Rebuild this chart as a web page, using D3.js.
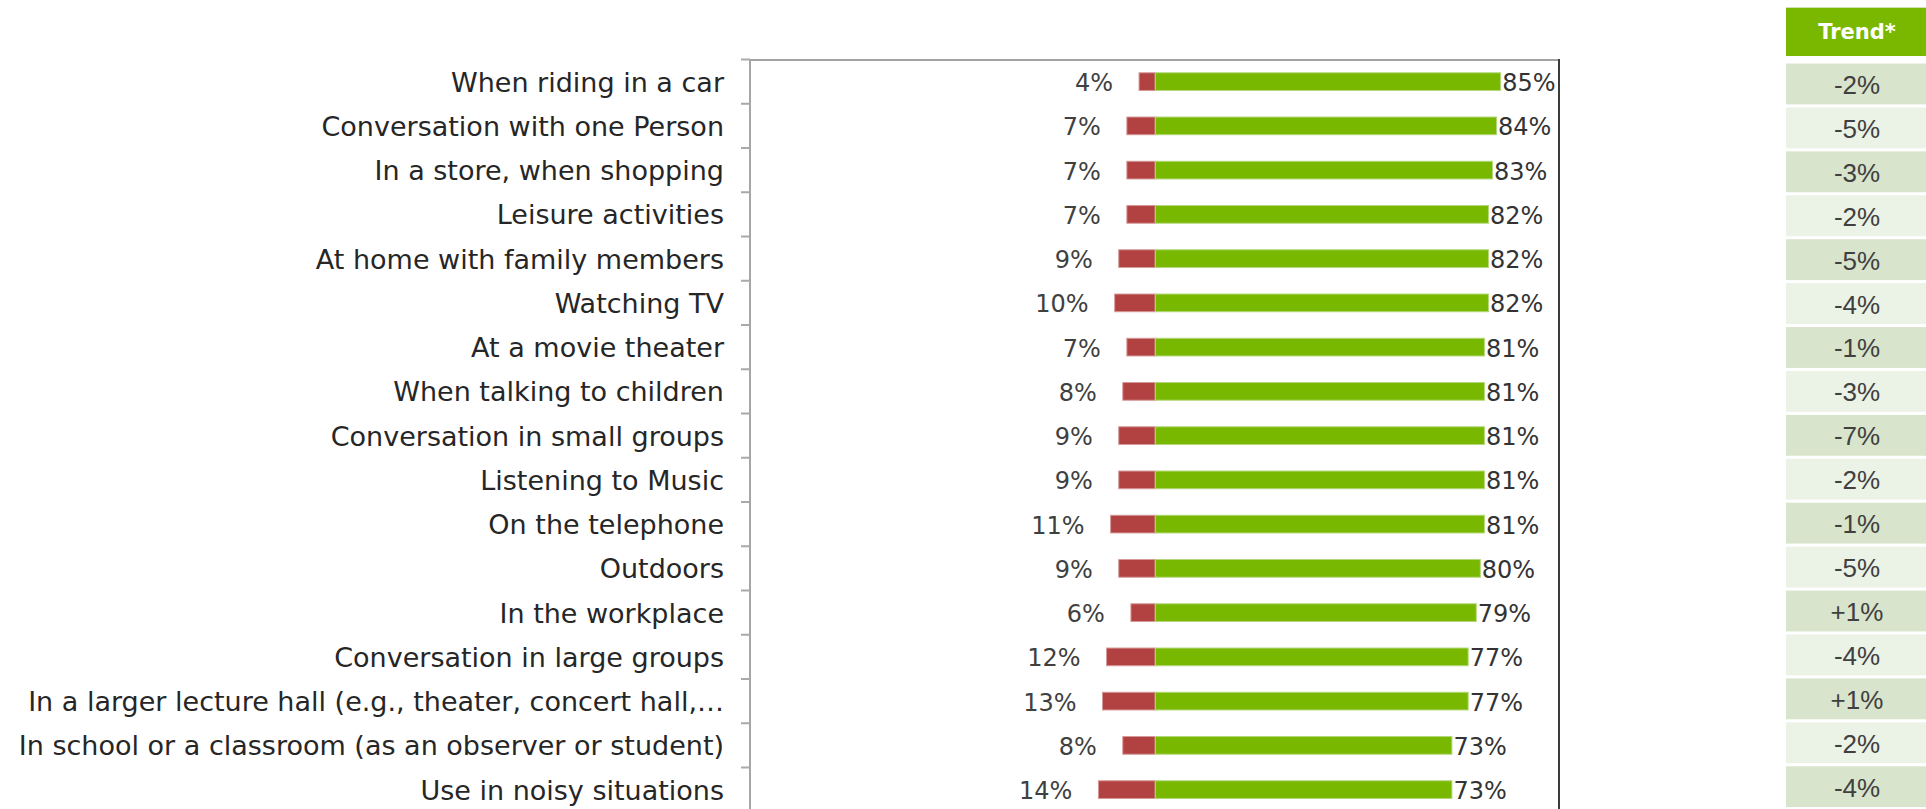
<!DOCTYPE html>
<html>
<head>
<meta charset="utf-8">
<script src="https://cdn.jsdelivr.net/npm/d3@7"></script>
<style>
  html, body { margin: 0; padding: 0; background: #ffffff; }
  svg { display: block; }
</style>
</head>
<body>
<svg id="chart" width="1926" height="809"></svg>
<script>
// Situations, ordered from highest to lowest satisfaction
const categories = [
  "When riding in a car",
  "Conversation with one Person",
  "In a store, when shopping",
  "Leisure activities",
  "At home with family members",
  "Watching TV",
  "At a movie theater",
  "When talking to children",
  "Conversation in small groups",
  "Listening to Music",
  "On the telephone",
  "Outdoors",
  "In the workplace",
  "Conversation in large groups",
  "In a larger lecture hall (e.g., theater, concert hall,\u2026",
  "In school or a classroom (as an observer or student)",
  "Use in noisy situations"
];

// Share satisfied (green, right) and dissatisfied (red, left), in percent
const satisfied    = [85, 84, 83, 82, 82, 82, 81, 81, 81, 81, 81, 80, 79, 77, 77, 73, 73];
const dissatisfied = [4, 7, 7, 7, 9, 10, 7, 8, 9, 9, 11, 9, 6, 12, 13, 8, 14];

// Change versus the previous survey, in percentage points
const trend = [-2, -5, -3, -2, -5, -4, -1, -3, -7, -2, -1, -5, 1, -4, 1, -2, -4];
const trendTitle = "Trend*";

const svg = d3.select("#chart");
const rows = categories.map((c, i) => ({
  cat: c, pos: satisfied[i], neg: dissatisfied[i], trend: trend[i], i
}));

// Scales
const x = d3.scaleLinear().domain([-100, 100]).range([749, 1561.6]);
const y = d3.scaleBand()
  .domain(categories)
  .range([59.5, 59.5 + categories.length * 44.25])
  .paddingInner(0.6)
  .paddingOuter(0.3);

const frame = { left: 750, right: 1559, top: 60, bottom: 812 };

// Plot frame: grey top and left, dark right edge
svg.append("line")
  .attr("x1", frame.left).attr("x2", frame.right)
  .attr("y1", frame.top).attr("y2", frame.top)
  .attr("stroke", "#a3a3a3").attr("stroke-width", 2);
svg.append("line")
  .attr("x1", frame.left).attr("x2", frame.left)
  .attr("y1", frame.top - 1).attr("y2", frame.bottom)
  .attr("stroke", "#a6a6a6").attr("stroke-width", 2);
svg.append("line")
  .attr("x1", frame.right).attr("x2", frame.right)
  .attr("y1", frame.top - 1).attr("y2", frame.bottom)
  .attr("stroke", "#3c3c3c").attr("stroke-width", 2);

// Tick marks at the category boundaries
const step = y.step();
const boundaries = d3.range(categories.length + 1).map(k => y.range()[0] + k * step);
svg.append("g").selectAll("line")
  .data(boundaries)
  .join("line")
  .attr("x1", frame.left - 9).attr("x2", frame.left)
  .attr("y1", d => d).attr("y2", d => d)
  .attr("stroke", "#a9a9a9").attr("stroke-width", 2);

// Category labels via a left axis
const yAxis = d3.axisLeft(y).tickSize(0).tickPadding(0);
const axisG = svg.append("g")
  .attr("transform", `translate(${frame.left - 26},0)`)
  .call(yAxis);
axisG.select(".domain").remove();
axisG.selectAll("text")
  .attr("font-family", "'DejaVu Sans', Verdana, sans-serif")
  .attr("font-size", 27)
  .attr("fill", "#262626")
  .attr("dy", null)
  .attr("y", 10);

const bh = y.bandwidth();

// Dissatisfied bars (to the left of zero)
svg.append("g").selectAll("rect")
  .data(rows)
  .join("rect")
  .attr("x", d => x(-d.neg))
  .attr("y", d => y(d.cat))
  .attr("width", d => x(0) - x(-d.neg))
  .attr("height", bh)
  .attr("fill", "#b24141")
  .attr("stroke", "#d49a98").attr("stroke-width", 1);

// Satisfied bars (to the right of zero)
svg.append("g").selectAll("rect")
  .data(rows)
  .join("rect")
  .attr("x", x(0))
  .attr("y", d => y(d.cat))
  .attr("width", d => x(d.pos) - x(0))
  .attr("height", bh)
  .attr("fill", "#79b800")
  .attr("stroke", "#b3d77a").attr("stroke-width", 1);

const valueFont = "'DejaVu Sans', Verdana, sans-serif";

// Value labels
svg.append("g").selectAll("text")
  .data(rows)
  .join("text")
  .attr("x", d => x(-d.neg) - 26)
  .attr("y", d => y(d.cat) + bh / 2 + 9.5)
  .attr("text-anchor", "end")
  .attr("font-family", valueFont)
  .attr("font-size", 24)
  .attr("fill", "#404040")
  .text(d => d.neg + "%");

svg.append("g").selectAll("text")
  .data(rows)
  .join("text")
  .attr("x", d => x(d.pos) + 1.5)
  .attr("y", d => y(d.cat) + bh / 2 + 9.5)
  .attr("text-anchor", "start")
  .attr("font-family", valueFont)
  .attr("font-size", 24)
  .attr("fill", "#333333")
  .text(d => d.pos + "%");

// Trend column
const colX = 1786, colW = 142;
const ty = d3.scaleBand()
  .domain(categories)
  .range([62, 62 + categories.length * 43.92])
  .paddingInner(0.07)
  .paddingOuter(0.035);

svg.append("rect")
  .attr("x", colX).attr("y", 7).attr("width", colW).attr("height", 49)
  .attr("fill", "#7ab800");
svg.append("line")
  .attr("x1", colX).attr("x2", colX + colW)
  .attr("y1", 7.5).attr("y2", 7.5)
  .attr("stroke", "#cfe3b0").attr("stroke-width", 1);
svg.append("text")
  .attr("x", colX + 71).attr("y", 39)
  .attr("text-anchor", "middle")
  .attr("font-family", "'DejaVu Sans', Verdana, sans-serif")
  .attr("font-weight", "bold")
  .attr("font-size", 21)
  .attr("fill", "#ffffff")
  .text(trendTitle);

const fmtTrend = v => (v > 0 ? "+" : "") + v + "%";
const cells = svg.append("g").selectAll("g")
  .data(rows)
  .join("g")
  .attr("transform", d => `translate(${colX},${ty(d.cat)})`);
cells.append("rect")
  .attr("width", colW)
  .attr("height", ty.bandwidth())
  .attr("fill", d => d.i % 2 === 0 ? "#d8e4cb" : "#ebf2e6");
cells.append("text")
  .attr("x", 71)
  .attr("y", ty.bandwidth() / 2 + 10)
  .attr("text-anchor", "middle")
  .attr("font-family", "'Liberation Sans', Arial, sans-serif")
  .attr("font-size", 26)
  .attr("fill", "#404040")
  .text(d => fmtTrend(d.trend));
</script>
</body>
</html>
